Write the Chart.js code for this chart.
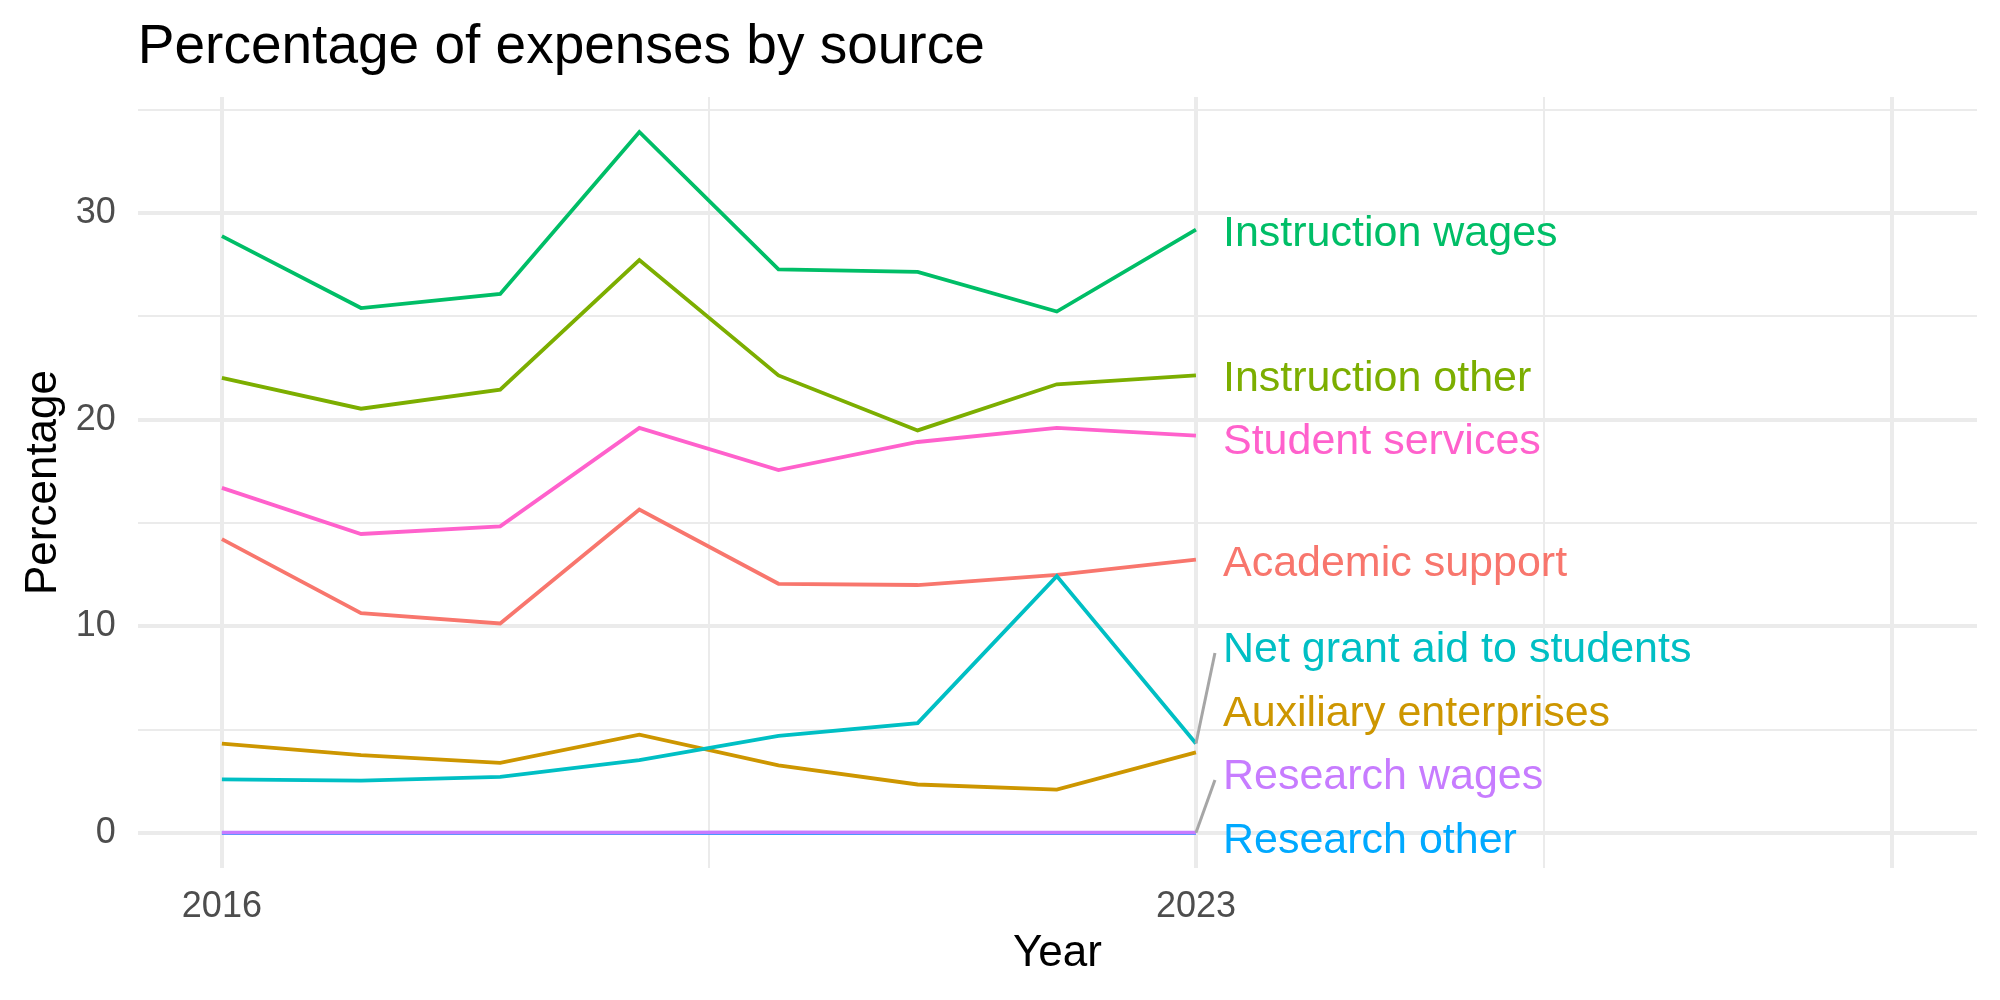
<!DOCTYPE html>
<html>
<head>
<meta charset="utf-8">
<title>Percentage of expenses by source</title>
<script src="https://cdn.jsdelivr.net/npm/chart.js@4.4.1/dist/chart.umd.min.js"></script>
<style>
  html, body { margin: 0; padding: 0; background: #fff; }
  #wrap { width: 2000px; height: 1000px; }
</style>
</head>
<body>
<div id="wrap"><canvas id="expensesChart"></canvas></div>
<script>
// values
const years = [2016, 2017, 2018, 2019, 2020, 2021, 2022, 2023];

const seriesNames = [
    'Academic support',
    'Auxiliary enterprises',
    'Instruction other',
    'Instruction wages',
    'Net grant aid to students',
    'Research other',
    'Research wages',
    'Student services'
];

const academicSupport      = [14.22, 10.64, 10.14, 15.65, 12.06, 12.00, 12.49, 13.23];
const auxiliaryEnterprises = [4.33, 3.77, 3.40, 4.76, 3.28, 2.35, 2.10, 3.90];
const instructionOther     = [22.02, 20.53, 21.45, 27.72, 22.14, 19.48, 21.71, 22.14];
const instructionWages     = [28.88, 25.40, 26.08, 33.92, 27.27, 27.15, 25.23, 29.19];
const netGrantAid          = [2.60, 2.54, 2.72, 3.53, 4.70, 5.32, 12.43, 4.33];
const researchOther        = [0.00, 0.00, 0.00, 0.00, 0.00, 0.00, 0.00, 0.00];
const researchWages        = [0.02, 0.02, 0.02, 0.02, 0.03, 0.02, 0.02, 0.02];
const studentServices      = [16.70, 14.47, 14.84, 19.60, 17.56, 18.92, 19.60, 19.23];

const seriesValues = [academicSupport, auxiliaryEnterprises, instructionOther, instructionWages,
                      netGrantAid, researchOther, researchWages, studentServices];

// where the repelled end labels sit (in percent units)
const labelValues = [13.18, 5.91, 22.15, 29.13, 9.0, -0.22, 2.86, 19.1];
const segmentSeries = ['Net grant aid to students', 'Research wages'];

// ticks / gridlines
const xTicks = [2016, 2019.5, 2023, 2025.5, 2028];
const xMajor = [2016, 2023, 2028];
const xLabelled = [2016, 2023];
const yTicks = [0, 5, 10, 15, 20, 25, 30, 35];
const yMajor = [0, 10, 20, 30];

// ggplot hue palette
const seriesColors = ['#F8766D', '#CD9600', '#7CAE00', '#00BE67', '#00BFC4', '#00A9FF', '#C77CFF', '#FF61CC'];

const FONT = '"Liberation Sans", Arial, Helvetica, sans-serif';

const endLabels = {
    id: 'endLabels',
    afterDatasetsDraw(chart) {
        const ctx = chart.ctx;
        const xs = chart.scales.x;
        const ys = chart.scales.y;
        const x0 = xs.getPixelForValue(years[years.length - 1]);
        ctx.save();
        ctx.font = '43px ' + FONT;
        ctx.textAlign = 'left';
        ctx.textBaseline = 'alphabetic';
        seriesNames.forEach((name, i) => {
            const yLab = ys.getPixelForValue(labelValues[i]);
            if (segmentSeries.includes(name)) {
                const vals = seriesValues[i];
                ctx.strokeStyle = '#A6A6A6';
                ctx.lineWidth = 3;
                ctx.beginPath();
                ctx.moveTo(x0, ys.getPixelForValue(vals[vals.length - 1]));
                ctx.lineTo(x0 + 19, yLab + 6);
                ctx.stroke();
            }
            ctx.fillStyle = seriesColors[i];
            ctx.fillText(name, x0 + 27, yLab + 15.4);
        });
        ctx.restore();
    }
};

// ggplot draws the last group on top, chart.js draws index 0 on top -> reverse
const datasets = seriesNames.map((name, i) => ({
    label: name,
    data: years.map((yr, j) => ({ x: yr, y: seriesValues[i][j] })),
    borderColor: seriesColors[i],
    backgroundColor: seriesColors[i],
    borderWidth: 3.8,
    pointRadius: 0,
    tension: 0,
    fill: false
})).reverse();

new Chart(document.getElementById('expensesChart'), {
    type: 'line',
    data: { datasets: datasets },
    options: {
        responsive: true,
        maintainAspectRatio: false,
        animation: false,
        events: [],
        layout: { padding: { top: 0, left: 13, right: 23, bottom: 16 } },
        plugins: {
            legend: { display: false },
            tooltip: { enabled: false },
            title: {
                display: true,
                text: 'Percentage of expenses by source',
                align: 'start',
                fullSize: false,
                color: '#000000',
                font: { family: FONT, size: 55, weight: 'normal' },
                padding: { top: 15, bottom: 16 }
            }
        },
        scales: {
            x: {
                type: 'linear',
                min: 2015.396,
                max: 2028.613,
                afterBuildTicks: axis => { axis.ticks = xTicks.map(v => ({ value: v })); },
                ticks: {
                    autoSkip: false,
                    maxRotation: 0,
                    padding: 17,
                    color: '#4D4D4D',
                    font: { family: FONT, size: 36 },
                    callback: v => xLabelled.includes(v) ? String(v) : ''
                },
                grid: {
                    color: '#EBEBEB',
                    drawTicks: false,
                    lineWidth: c => (c.tick && xMajor.includes(c.tick.value)) ? 4 : 2
                },
                border: { display: false },
                title: {
                    display: true,
                    text: 'Year',
                    color: '#000000',
                    font: { family: FONT, size: 44 },
                    padding: { top: -18, bottom: 4 }
                }
            },
            y: {
                type: 'linear',
                min: -1.69,
                max: 35.61,
                afterBuildTicks: axis => { axis.ticks = yTicks.map(v => ({ value: v })); },
                ticks: {
                    autoSkip: false,
                    padding: 22,
                    color: '#4D4D4D',
                    font: { family: FONT, size: 36 },
                    callback: v => yMajor.includes(v) ? String(v) : ''
                },
                grid: {
                    color: '#EBEBEB',
                    drawTicks: false,
                    lineWidth: c => (c.tick && yMajor.includes(c.tick.value)) ? 4 : 2
                },
                border: { display: false },
                title: {
                    display: true,
                    text: 'Percentage',
                    color: '#000000',
                    font: { family: FONT, size: 44 },
                    padding: { top: 4, bottom: -16 }
                }
            }
        }
    },
    plugins: [endLabels]
});
</script>
</body>
</html>
